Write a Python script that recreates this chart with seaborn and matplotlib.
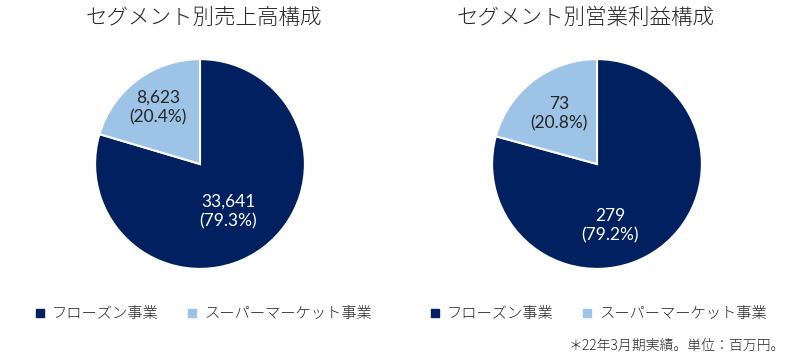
import matplotlib
matplotlib.use("Agg")
import numpy as np
import matplotlib.pyplot as plt
import seaborn as sns
from matplotlib.lines import Line2D

sns.set_theme(style="white")
plt.rcParams['font.family'] = ['Noto Sans CJK JP', 'DejaVu Sans']

segments = ["フローズン事業", "スーパーマーケット事業"]
sales_values = [33641, 8623]
sales_pct = [79.3, 20.4]
profit_values = [279, 73]
profit_pct = [79.2, 20.8]
titles = ["セグメント別売上高構成", "セグメント別営業利益構成"]
footnote = "＊22年3月期実績。単位：百万円。"

colors = ["#002060", "#9DC3E6"]
text_colors = ["white", "#262626"]

W, H = 790, 363
fig = plt.figure(figsize=(W / 100, H / 100), dpi=100)
fig.patch.set_facecolor("white")


def px_axes(x, y, w, h):
    return fig.add_axes([x / W, (H - y - h) / H, w / W, h / H])


def draw_pie(ax, values, pcts, dists, angle_shift):
    labels_iter = iter(zip(values, pcts))

    def fmt(_p):
        v, p = next(labels_iter)
        return f"{v:,}\n({p}%)"

    wedges, texts, autotexts = ax.pie(
        values, colors=colors, startangle=90, counterclock=False,
        autopct=fmt, pctdistance=0.6, radius=1,
        wedgeprops=dict(edgecolor="white", linewidth=1.5),
        textprops=dict(fontsize=12.5, linespacing=1.25,
                       family=["Lato", "Noto Sans CJK JP"]),
    )
    for w, t, c, d, s in zip(wedges, autotexts, text_colors, dists, angle_shift):
        t.set_color(c)
        ang = np.deg2rad((w.theta1 + w.theta2) / 2 + s)
        t.set_position((d * np.cos(ang), d * np.sin(ang)))
    ax.set_xlim(-1.02, 1.02)
    ax.set_ylim(-1.02, 1.02)
    ax.set_aspect("equal")
    ax.axis("off")


ax1 = px_axes(93, 57, 214, 214)
draw_pie(ax1, sales_values, sales_pct, [0.53, 0.67], [-6, 0])
ax2 = px_axes(490, 57, 214, 214)
draw_pie(ax2, profit_values, profit_pct, [0.6, 0.6], [-25, 0])

for cx, t in zip([204, 586], titles):
    fig.text(cx / W, 1 - 18 / H, t, ha="center", va="center", fontsize=15.5,
             color="#262626", fontweight="light")

handles = [Line2D([0], [0], marker="s", linestyle="", markersize=6,
                  markerfacecolor=c, markeredgecolor=c) for c in colors]
for cx in [203, 598]:
    fig.legend(handles, segments, loc="center", bbox_to_anchor=(cx / W, 1 - 314 / H),
               ncol=2, frameon=False, fontsize=11, handlelength=0.8,
               handletextpad=0.4, columnspacing=1.8, labelcolor="#262626",
               prop=dict(size=11, weight="light"))

fig.text(785 / W, 1 - 346 / H, footnote, ha="right", va="center", fontsize=10,
         color="#262626", fontweight="light")

fig.savefig("out.png", dpi=100, facecolor="white")
